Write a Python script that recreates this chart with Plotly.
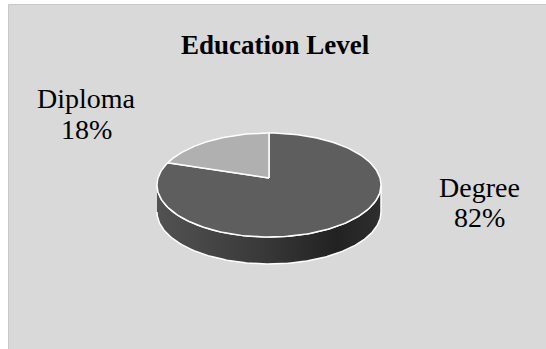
import numpy as np
import plotly.graph_objects as go

categories = ["Degree", "Diploma"]
values = [82, 18]
title_text = "Education Level"

W, H = 546, 349
cx, cy = 269, 185          # ellipse centre (px)
rx, ry = 112, 52           # ellipse radii
depth = 27                 # pie thickness
vx, vy = 269, 178          # visual apex of slices
top_colors = {"Degree": "#5e5e5e", "Diploma": "#b0b0b0"}
FONT = "Liberation Serif"

fig = go.Figure()

def ell(theta):
    return cx + rx * np.cos(theta), cy - ry * np.sin(theta)

total = sum(values)
frac = {c: v / total for c, v in zip(categories, values)}
a0 = np.pi / 2
dip_end = a0 + 2 * np.pi * frac["Diploma"]
slices = {
    "Diploma": (a0, dip_end),
    "Degree": (dip_end, a0 + 2 * np.pi),
}

# side wall (front half) with horizontal gradient
th = np.linspace(np.pi, 2 * np.pi, 200)
xs, ys = ell(th)
px = np.concatenate([xs, xs[::-1]])
py = np.concatenate([ys, ys[::-1] + depth])
fig.add_trace(go.Scatter(
    x=px, y=py, fill="toself", mode="lines",
    fillgradient=dict(type="horizontal",
                      colorscale=[[0, "rgb(82,82,82)"], [0.45, "rgb(58,58,58)"],
                                  [0.8, "rgb(34,34,34)"], [1, "rgb(46,46,46)"]]),
    line=dict(color="white", width=1.5), hoverinfo="skip", showlegend=False))

# top slices
for c in ["Degree", "Diploma"]:
    s, e = slices[c]
    th = np.linspace(s, e, 200)
    xs, ys = ell(th)
    px = np.concatenate([[vx], xs, [vx]])
    py = np.concatenate([[vy], ys, [vy]])
    fig.add_trace(go.Scatter(x=px, y=py, fill="toself", fillcolor=top_colors[c], mode="lines",
                             line=dict(color="white", width=1.5), hoverinfo="skip", showlegend=False))

# labels (name line and percent line)
label_pos = {"Diploma": (86, 98, 129), "Degree": (479, 187, 217)}
for c, v in zip(categories, values):
    x, y1, y2 = label_pos[c]
    fig.add_annotation(x=x, y=y1, xref="x", yref="y", text=c, showarrow=False,
                       font=dict(family=FONT, size=28, color="#000"))
    fig.add_annotation(x=x, y=y2, xref="x", yref="y", text=f"{v}%", showarrow=False,
                       font=dict(family=FONT, size=28, color="#000"))

fig.add_annotation(x=275, y=45, xref="x", yref="y", text=f"<b>{title_text}</b>", showarrow=False,
                   font=dict(family=FONT, size=27, color="#000"))

fig.update_layout(
    width=W, height=H, margin=dict(l=0, r=0, t=0, b=0),
    paper_bgcolor="white", plot_bgcolor="rgba(0,0,0,0)",
    xaxis=dict(range=[0, W], visible=False, fixedrange=True),
    yaxis=dict(range=[H, 0], visible=False, fixedrange=True),
    shapes=[dict(type="rect", xref="x", yref="y", x0=8.5, y0=4.5, x1=W + 2, y1=H + 2,
                 fillcolor="#d9d9d9", line=dict(color="#c8c8c8", width=1), layer="below")],
)
fig.write_html("out.html")
